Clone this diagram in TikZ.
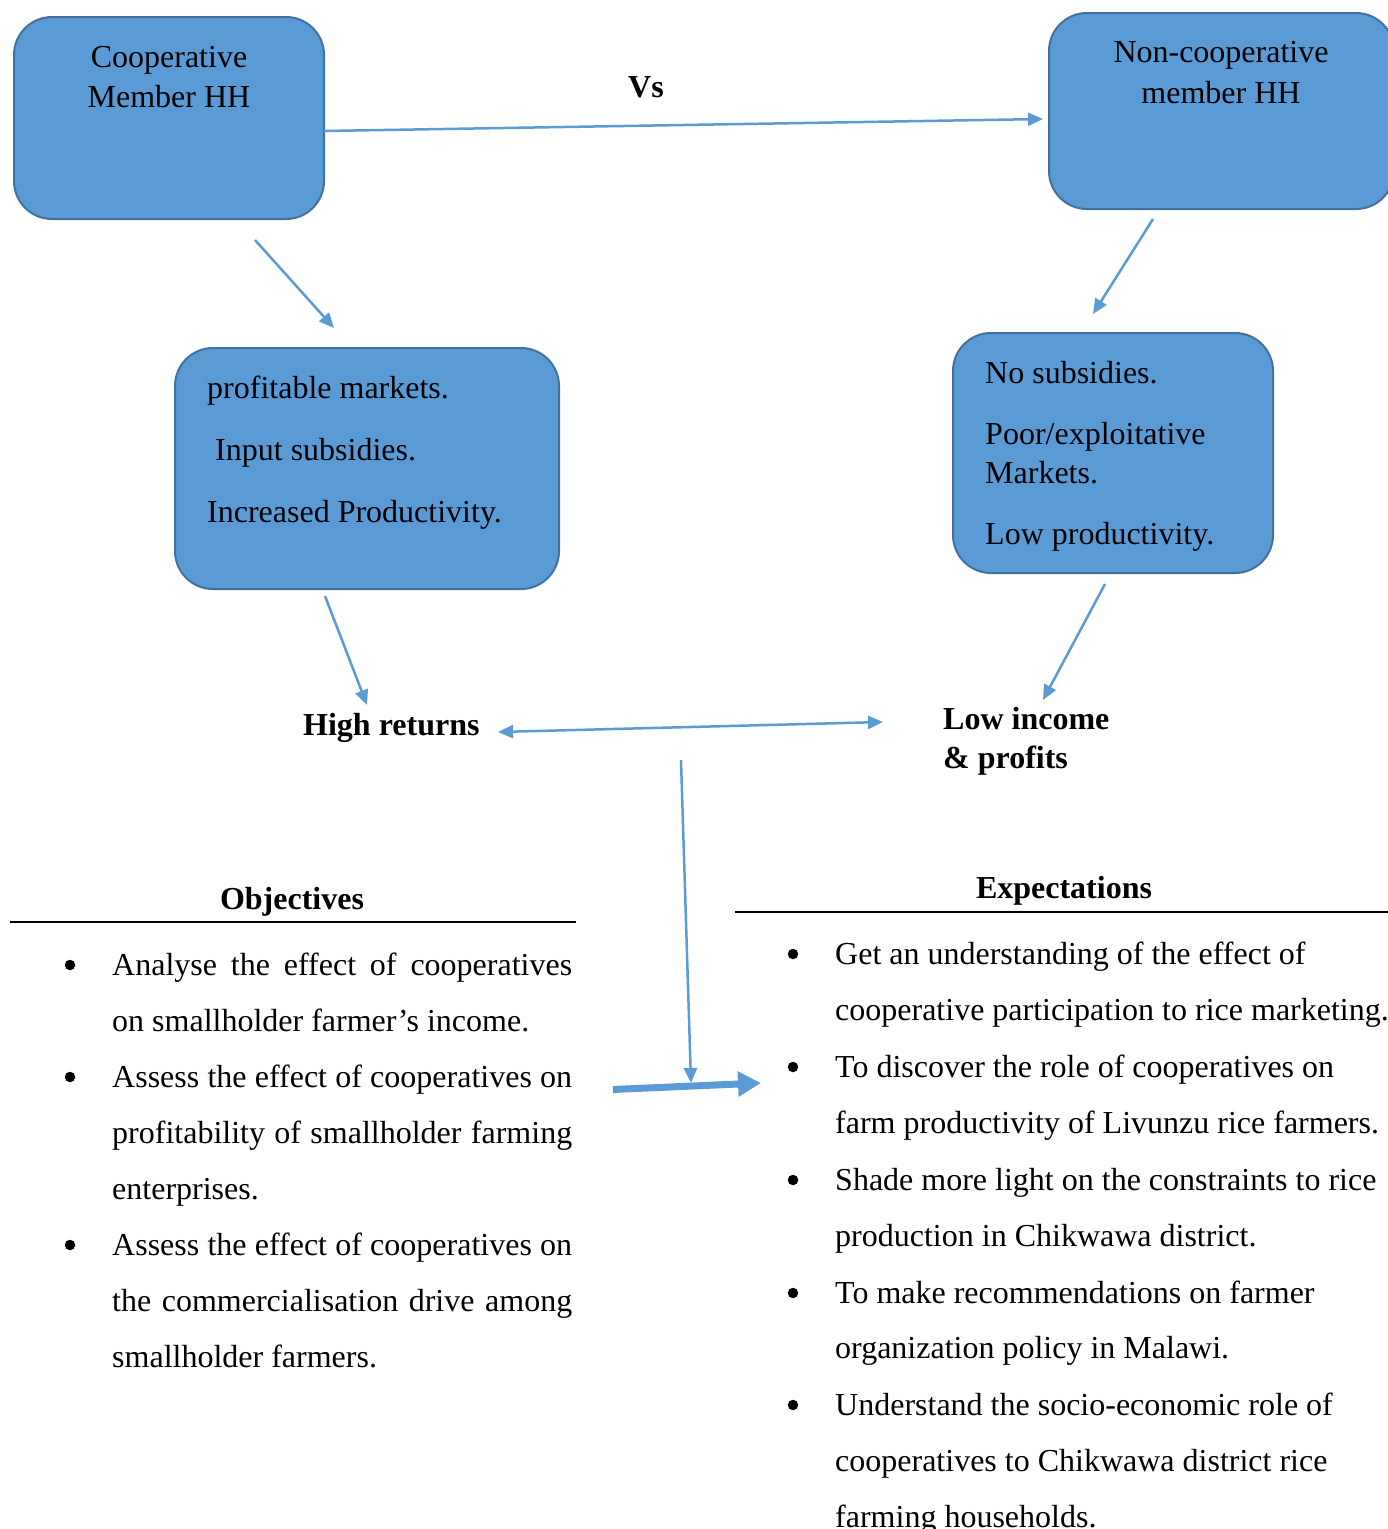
\documentclass[tikz,border=0pt]{standalone}
\usepackage{fontspec}
\setmainfont{Liberation Serif}
\usetikzlibrary{arrows.meta}
\definecolor{boxfill}{HTML}{5B9BD5}
\definecolor{boxline}{HTML}{41719C}
\definecolor{arrowc}{HTML}{5B9BD5}
\begin{document}
\begin{tikzpicture}[x=1pt,y=-1pt,
  hhbox/.style={draw=boxline,line width=2pt,fill=boxfill,rounded corners=38pt,inner sep=0pt},
  txt/.style={inner sep=0pt,anchor=base west,font=\fontsize{32}{40}\selectfont},
  ctxt/.style={inner sep=0pt,anchor=base,font=\fontsize{32}{40}\selectfont},
  btxt/.style={inner sep=0pt,anchor=base west,font=\fontsize{32}{40}\selectfont\bfseries},
  bctxt/.style={inner sep=0pt,anchor=base,font=\fontsize{32}{40}\selectfont\bfseries},
  bul/.style={circle,fill=black,inner sep=0pt,minimum size=10.5pt},
  conn/.style={draw=arrowc,line width=2.5pt,-{Triangle[length=15pt,width=13pt]}},
  dconn/.style={draw=arrowc,line width=2.5pt,{Triangle[length=15pt,width=13pt]}-{Triangle[length=15pt,width=13pt]}},
  thick conn/.style={draw=arrowc,line width=7pt,-{Triangle[length=23pt,width=24pt]}},
  rulel/.style={draw=black,line width=2pt}]
\useasboundingbox (0,0) rectangle (1388,1529);

% boxes
\node[hhbox,minimum width=310pt,minimum height=202pt] (b1) at (169,118) {};
\node[hhbox,minimum width=345pt,minimum height=196pt] (b2) at (1221.5,111) {};
\node[hhbox,minimum width=384pt,minimum height=241pt] (b3) at (367,468.5) {};
\node[hhbox,minimum width=320pt,minimum height=240pt] (b4) at (1113,453) {};

% box texts
\node[ctxt] (b1t1) at (169,67) {Cooperative};
\node[ctxt] (b1t2) at (169,107) {Member HH};
\node[ctxt] (b2t1) at (1221,62) {Non-cooperative};
\node[ctxt] (b2t2) at (1221,103) {member HH};
\node[txt] (b3t1) at (207,398) {profitable markets.};
\node[txt] (b3t2) at (215,460) {Input subsidies.};
\node[txt] (b3t3) at (207,522) {Increased Productivity.};
\node[txt] (b4t1) at (985,383) {No subsidies.};
\node[txt] (b4t2) at (985,444) {Poor/exploitative};
\node[txt] (b4t3) at (985,483) {Markets.};
\node[txt] (b4t4) at (985,544) {Low productivity.};

% labels
\node[bctxt] (vs) at (646,97) {Vs};
\node[btxt] (high) at (303,735) {High returns};
\node[btxt] (low1) at (943,729) {Low income};
\node[btxt] (low2) at (943,768) {\&~profits};

% connector end points
\coordinate (a1s) at (324,131);
\coordinate (a1e) at (1043,119);
\coordinate (a2s) at (255,240);
\coordinate (a2e) at (334,328);
\coordinate (a3s) at (1153,219);
\coordinate (a3e) at (1093,314);
\coordinate (a4s) at (325,596);
\coordinate (a4e) at (367,705);
\coordinate (a5s) at (1105,584);
\coordinate (a5e) at (1043,700);
\coordinate (a6s) at (498,732);
\coordinate (a6e) at (883,722);
\coordinate (a7s) at (681,760);
\coordinate (a7e) at (691,1083);
\coordinate (a8s) at (613,1089.5);
\coordinate (a8e) at (761,1083);

\draw[conn] (a1s) -- (a1e);
\draw[conn] (a2s) -- (a2e);
\draw[conn] (a3s) -- (a3e);
\draw[conn] (a4s) -- (a4e);
\draw[conn] (a5s) -- (a5e);
\draw[dconn] (a6s) -- (a6e);
\draw[thick conn] (a8s) -- (a8e);
\draw[conn] (a7s) -- (a7e);

% Objectives
\node[bctxt] (objh) at (292,909) {Objectives};
\coordinate (or1) at (10,922);
\coordinate (or2) at (576,922);
\draw[rulel] (or1) -- (or2);
\node[bul] (ob1) at (70,965) {};
\node[bul] (ob2) at (70,1077) {};
\node[bul] (ob3) at (70,1245) {};
\node[txt] (o1) at (112,975) {\makebox[460pt][s]{Analyse the effect of cooperatives}};
\node[txt] (o2) at (112,1031) {on smallholder farmer’s income.};
\node[txt] (o3) at (112,1087) {\makebox[460pt][s]{Assess the effect of cooperatives on}};
\node[txt] (o4) at (112,1143) {\makebox[460pt][s]{profitability of smallholder farming}};
\node[txt] (o5) at (112,1199) {enterprises.};
\node[txt] (o6) at (112,1255) {\makebox[460pt][s]{Assess the effect of cooperatives on}};
\node[txt] (o7) at (112,1311) {\makebox[460pt][s]{the commercialisation drive among}};
\node[txt] (o8) at (112,1367) {smallholder farmers.};

% Expectations
\node[bctxt] (exh) at (1064,898) {Expectations};
\coordinate (er1) at (735,912);
\coordinate (er2) at (1388,912);
\draw[rulel] (er1) -- (er2);
\node[bul] (eb1) at (793,954) {};
\node[bul] (eb2) at (793,1067) {};
\node[bul] (eb3) at (793,1180) {};
\node[bul] (eb4) at (793,1293) {};
\node[bul] (eb5) at (793,1405) {};
\node[txt] (e1) at (835,964) {Get an understanding of the effect of};
\node[txt] (e2) at (835,1020) {cooperative participation to rice marketing.};
\node[txt] (e3) at (835,1077) {To discover the role of cooperatives on};
\node[txt] (e4) at (835,1133) {farm productivity of Livunzu rice farmers.};
\node[txt] (e5) at (835,1190) {Shade more light on the constraints to rice};
\node[txt] (e6) at (835,1246) {production in Chikwawa district.};
\node[txt] (e7) at (835,1303) {To make recommendations on farmer};
\node[txt] (e8) at (835,1358) {organization policy in Malawi.};
\node[txt] (e9) at (835,1415) {Understand the socio-economic role of};
\node[txt] (e10) at (835,1471) {cooperatives to Chikwawa district rice};
\node[txt] (e11) at (835,1527) {farming households.};
\end{tikzpicture}
\end{document}
